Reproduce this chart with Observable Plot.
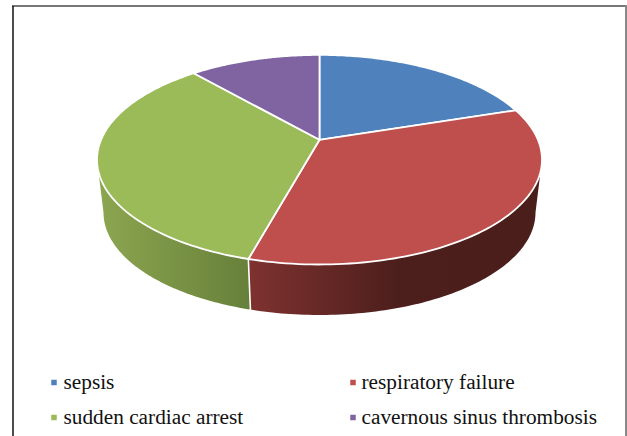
<!DOCTYPE html>
<html>
<head>
<meta charset="utf-8">
<style>html,body{margin:0;padding:0;background:#fff}svg{display:block}</style>
<script src="https://cdn.jsdelivr.net/npm/d3@7"></script>
<script src="https://cdn.jsdelivr.net/npm/@observablehq/plot@0.6"></script>
</head>
<body>
<script>
const categories = ["sepsis", "respiratory failure", "sudden cardiac arrest", "cavernous sinus thrombosis"];
const values = [7, 12, 12, 4];
const colors = ["#4f81bd", "#be4f4c", "#9bbb59", "#8064a2"];

const W = 627, H = 436;
const top3d = {cx: 319, cy: 159.2, rx: 222.5, ry: 104.8};
const bot3d = {cx: 319, cy: 212, rx: 216, ry: 102.5};
const tilt = -0.19; // perspective shift of the pie centre inside the ellipse

// circle point at clockwise angle from 12 o'clock -> normalised ellipse coordinates
function persp(theta) {
  const ux = Math.sin(theta), uy = -Math.cos(theta);
  const den = 1 + tilt * uy;
  return [ux * Math.sqrt(1 - tilt * tilt) / den, (uy + tilt) / den];
}
const onEllipse = (e, [u, v]) => ({x: e.cx + e.rx * u, y: e.cy + e.ry * v});

const pie = d3.pie().sort(null).value(d => d)(values);
const centre = onEllipse(top3d, [0, tilt]);
const arcAngles = (a, b) => d3.range(0, 1.0001, 1 / 90).map(t => a + (b - a) * t);

const faces = pie.map(p => {
  const rim = arcAngles(p.startAngle, p.endAngle).map(t => onEllipse(top3d, persp(t)));
  return [centre, ...rim, centre];
});

// Walls: visible front part of the rim, between matched points of the top and bottom ellipses
const seamAngle = pie[1].endAngle;
const seamUV = persp(seamAngle);
const seamPhi = Math.atan2(seamUV[1], seamUV[0]);
function wall(phi0, phi1) {
  const uv = d3.range(0, 1.0001, 1 / 90).map(t => {
    const f = phi0 + (phi1 - phi0) * t;
    return [Math.cos(f), Math.sin(f)];
  });
  const a = uv.map(q => onEllipse(top3d, q));
  const b = uv.map(q => onEllipse(bot3d, q)).reverse();
  return [...a, ...b, a[0]];
}
const redWall = wall(0, seamPhi);
const greenWall = wall(seamPhi, Math.PI);
const seam = [onEllipse(top3d, seamUV), onEllipse(bot3d, seamUV)];

const legend = categories.map((name, i) => ({
  name, color: colors[i],
  sx: i % 2 ? 352.5 : 53.5,
  tx: i % 2 ? 361 : 63,
  y: i < 2 ? 382 : 417
}));

function gradient(defs, id, stops) {
  const g = defs.append("linearGradient").attr("id", id);
  for (const [o, c] of stops) g.append("stop").attr("offset", o).attr("stop-color", c);
}
const gradients = () => {
  const defs = d3.create("svg:defs");
  gradient(defs, "wallRed", [[0, "#7f3230"], [0.5, "#4d1f1c"], [1, "#4a1e1b"]]);
  gradient(defs, "wallGreen", [[0, "#8ca650"], [1, "#67803a"]]);
  return defs.node();
};
const xy = {x: "x", y: "y"};

const plot = Plot.plot({
  width: W, height: H,
  margin: 0,
  style: {background: "#fff", overflow: "visible"},
  x: {domain: [0, W], range: [0, W], axis: null},
  y: {domain: [0, H], range: [0, H], axis: null},
  marks: [
    gradients,
    Plot.line(greenWall, {...xy, fill: "url(#wallGreen)", stroke: "none"}),
    Plot.line(redWall, {...xy, fill: "url(#wallRed)", stroke: "none"}),
    Plot.line(seam, {...xy, stroke: "#fff", strokeWidth: 1.6}),
    ...faces.map((f, i) => Plot.line(f, {...xy, fill: colors[i], stroke: "#fff", strokeWidth: 1.8, strokeLinejoin: "round"})),
    Plot.dot(legend, {x: "sx", y: "y", symbol: "square", r: 3.1, fill: d => d.color, stroke: "none"}),
    Plot.text(legend, {x: "tx", y: "y", text: "name", textAnchor: "start", fontFamily: "Liberation Serif", fontSize: 21.3, fill: "#111"}),
    Plot.ruleY([5.5], {x1: 12, x2: 626, stroke: "#777", strokeWidth: 2}),
    Plot.ruleX([625.5], {y1: 5, y2: 436, stroke: "#888", strokeWidth: 2}),
    Plot.ruleX([12.5], {y1: 6, y2: 436, stroke: "#111", strokeWidth: 1.5})
  ]
});
document.body.appendChild(plot);
</script>
</body>
</html>
